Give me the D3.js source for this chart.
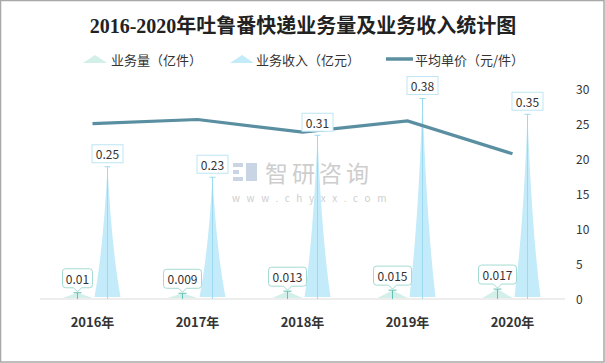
<!DOCTYPE html>
<html>
<head>
<meta charset="utf-8">
<script src="https://cdn.jsdelivr.net/npm/d3@7/dist/d3.min.js"></script>
<style>
  html, body { margin: 0; padding: 0; background: #fff; }
  svg { display: block; font-family: "Noto Sans CJK SC", "Noto Sans", sans-serif; }
</style>
</head>
<body>
<div id="chart"></div>
<script>
const years = ['2016年', '2017年', '2018年', '2019年', '2020年'];
const volume = [0.01, 0.009, 0.013, 0.015, 0.017];      // 业务量（亿件）
const volumeLabels = ['0.01', '0.009', '0.013', '0.015', '0.017'];
const revenue = [0.25, 0.23, 0.31, 0.38, 0.35];         // 业务收入（亿元）
const revenueLabels = ['0.25', '0.23', '0.31', '0.38', '0.35'];
const avgPrice = [24.9, 25.5, 23.7, 25.3, 20.6];        // 平均单价（元/件）
const rightTicks = [0, 5, 10, 15, 20, 25, 30];

const width = 605;
const height = 363;
const margin = { top: 88, right: 40, bottom: 65, left: 40 };

const volColor = '#d2efea';
const volLine = '#63c0b2';
const volBorder = '#a3dbd2';
const revColor = '#c4ebf9';
const revLine = '#9bdaf1';
const revBorder = '#bde5f4';
const lineColor = '#5a8fa1';

const svg = d3.select('#chart')
  .append('svg')
  .attr('width', width)
  .attr('height', height);

svg.append('rect')
  .attr('x', 0.5).attr('y', 0.5)
  .attr('width', width - 1.5).attr('height', height - 1.5)
  .attr('fill', '#fff')
  .attr('stroke', '#a8a8a8')
  .attr('stroke-width', 1.5);

const x = d3.scaleBand()
  .domain(years)
  .range([margin.left, width - margin.right]);

const yLeft = d3.scaleLinear()
  .domain([0, 0.4])
  .range([height - margin.bottom, margin.top]);

const yRight = d3.scaleLinear()
  .domain([0, 30])
  .range([height - margin.bottom, margin.top]);

const y0 = yLeft(0);

// title
svg.append('text')
  .attr('x', 303).attr('y', 26)
  .attr('text-anchor', 'middle')
  .attr('dominant-baseline', 'central')
  .style('font-family', '"Liberation Serif", "Noto Sans CJK SC", serif')
  .style('font-size', '20px')
  .style('font-weight', 'bold')
  .attr('fill', '#222')
  .text('2016-2020年吐鲁番快递业务量及业务收入统计图');

// watermark
const wm = svg.append('g').attr('opacity', 0.55);
wm.append('rect').attr('x', 233).attr('y', 163).attr('width', 10).attr('height', 4).attr('fill', '#9db3cf');
wm.append('rect').attr('x', 233).attr('y', 170).attr('width', 6).attr('height', 4).attr('fill', '#9db3cf');
wm.append('rect').attr('x', 233).attr('y', 177).attr('width', 10).attr('height', 4).attr('fill', '#9db3cf');
wm.append('rect').attr('x', 246).attr('y', 163).attr('width', 11).attr('height', 18).attr('fill', '#9db3cf');
wm.append('text')
  .attr('x', 265).attr('y', 172)
  .attr('dominant-baseline', 'central')
  .style('font-size', '23px')
  .style('letter-spacing', '4px')
  .attr('fill', '#a6a6a6')
  .text('智研咨询');
wm.append('text')
  .attr('x', 232).attr('y', 197)
  .attr('dominant-baseline', 'central')
  .style('font-size', '10px')
  .style('letter-spacing', '6.6px')
  .attr('fill', '#a6a6a6')
  .text('www.chyxx.com');

// legend
const legend = svg.append('g');
function spikePath(cx, top, bottom, w) {
  const h = bottom - top;
  return `M${cx - w / 2},${bottom} Q${cx - w * 0.16},${bottom - h * 0.38} ${cx},${top}` +
    ` Q${cx + w * 0.16},${bottom - h * 0.38} ${cx + w / 2},${bottom} Z`;
}
function triPath(cx, top, bottom, w) {
  return `M${cx - w / 2},${bottom} L${cx},${top} L${cx + w / 2},${bottom} Z`;
}
legend.append('path').attr('d', triPath(95, 55, 63, 24)).attr('fill', volColor);
legend.append('text').attr('x', 111).attr('y', 59).attr('dominant-baseline', 'central')
  .style('font-size', '13px').attr('fill', '#333').text('业务量（亿件）');
legend.append('path').attr('d', triPath(242, 55, 63, 24)).attr('fill', revColor);
legend.append('text').attr('x', 256).attr('y', 59).attr('dominant-baseline', 'central')
  .style('font-size', '13px').attr('fill', '#333').text('业务收入（亿元）');
legend.append('line').attr('x1', 386).attr('x2', 413).attr('y1', 59).attr('y2', 59)
  .attr('stroke', lineColor).attr('stroke-width', 3.5);
legend.append('text').attr('x', 415).attr('y', 59).attr('dominant-baseline', 'central')
  .style('font-size', '13px').attr('fill', '#333').text('平均单价（元/件）');

// x axis line
svg.append('line')
  .attr('x1', margin.left).attr('x2', width - margin.right)
  .attr('y1', y0 + 1).attr('y2', y0 + 1)
  .attr('stroke', '#dcdcdc').attr('stroke-width', 1.2);

// x labels
svg.append('g').selectAll('text')
  .data(years)
  .join('text')
  .attr('x', d => x(d) + x.bandwidth() / 2)
  .attr('y', 321)
  .attr('text-anchor', 'middle')
  .attr('dominant-baseline', 'central')
  .style('font-size', '13px')
  .style('font-weight', 'bold')
  .attr('fill', '#333')
  .text(d => d);

// right axis labels
svg.append('g').selectAll('text')
  .data(rightTicks)
  .join('text')
  .attr('x', 576)
  .attr('y', d => yRight(d))
  .attr('dominant-baseline', 'central')
  .style('font-size', '12px')
  .attr('fill', '#333')
  .text(d => d);

const cx = (d, off) => x(d) + x.bandwidth() / 2 + off;

// 业务量 spikes
const vol = svg.append('g');
vol.selectAll('path')
  .data(years)
  .join('path')
  .attr('d', (d, i) => triPath(cx(d, -15), yLeft(volume[i]), y0, 30))
  .attr('fill', volColor);
vol.selectAll('line.v')
  .data(years)
  .join('line')
  .attr('class', 'v')
  .attr('x1', d => cx(d, -15)).attr('x2', d => cx(d, -15))
  .attr('y1', (d, i) => yLeft(volume[i])).attr('y2', y0 + 1)
  .attr('stroke', volLine).attr('stroke-width', 1);
vol.selectAll('line.h')
  .data(years)
  .join('line')
  .attr('class', 'h')
  .attr('x1', d => cx(d, -15) - 4).attr('x2', d => cx(d, -15) + 4)
  .attr('y1', (d, i) => yLeft(volume[i])).attr('y2', (d, i) => yLeft(volume[i]))
  .attr('stroke', volLine).attr('stroke-width', 1);

// 业务收入 spikes
const rev = svg.append('g');
rev.selectAll('path')
  .data(years)
  .join('path')
  .attr('d', (d, i) => spikePath(cx(d, 15), yLeft(revenue[i]), y0 - 1, 26))
  .attr('fill', revColor);
rev.selectAll('line.v')
  .data(years)
  .join('line')
  .attr('class', 'v')
  .attr('x1', d => cx(d, 15)).attr('x2', d => cx(d, 15))
  .attr('y1', (d, i) => yLeft(revenue[i])).attr('y2', y0 + 1)
  .attr('stroke', revLine).attr('stroke-width', 1);
rev.selectAll('line.h')
  .data(years)
  .join('line')
  .attr('class', 'h')
  .attr('x1', d => cx(d, 15) - 3).attr('x2', d => cx(d, 15) + 3)
  .attr('y1', (d, i) => yLeft(revenue[i])).attr('y2', (d, i) => yLeft(revenue[i]))
  .attr('stroke', revLine).attr('stroke-width', 1);

// price line
const line = d3.line()
  .x((d, i) => cx(years[i], 0))
  .y(d => yRight(d));
svg.append('path')
  .datum(avgPrice)
  .attr('d', line)
  .attr('fill', 'none')
  .attr('stroke', lineColor)
  .attr('stroke-width', 3.2);

// 业务收入 labels
const revLab = svg.append('g').selectAll('g')
  .data(years)
  .join('g')
  .attr('transform', (d, i) => `translate(${cx(d, 15)},${yLeft(revenue[i]) - 13})`);
revLab.append('rect')
  .attr('x', -15.5).attr('y', -9)
  .attr('width', 31).attr('height', 18)
  .attr('fill', '#fff')
  .attr('stroke', revBorder).attr('stroke-width', 1);
revLab.append('text')
  .attr('text-anchor', 'middle')
  .attr('dominant-baseline', 'central')
  .style('font-size', '12px')
  .attr('fill', '#333')
  .text((d, i) => revenueLabels[i]);

// 业务量 labels (callouts)
const volLab = svg.append('g').selectAll('g')
  .data(years)
  .join('g')
  .attr('transform', (d, i) => `translate(${cx(d, -15)},${yLeft(volume[i])})`);
volLab.append('path')
  .attr('d', (d, i) => {
    const w = volumeLabels[i].length > 4 ? 38 : 30;
    const l = -w / 2, r = w / 2, t = -24, b = -5, rr = 3;
    return `M${l + rr},${t} L${r - rr},${t} Q${r},${t} ${r},${t + rr} L${r},${b - rr} Q${r},${b} ${r - rr},${b}` +
      ` L4,${b} L0,${-1} L-4,${b} L${l + rr},${b} Q${l},${b} ${l},${b - rr} L${l},${t + rr} Q${l},${t} ${l + rr},${t} Z`;
  })
  .attr('fill', '#fff')
  .attr('stroke', volBorder).attr('stroke-width', 1);
volLab.append('text')
  .attr('y', -14.5)
  .attr('text-anchor', 'middle')
  .attr('dominant-baseline', 'central')
  .style('font-size', '12px')
  .attr('fill', '#333')
  .text((d, i) => volumeLabels[i]);
</script>
</body>
</html>
